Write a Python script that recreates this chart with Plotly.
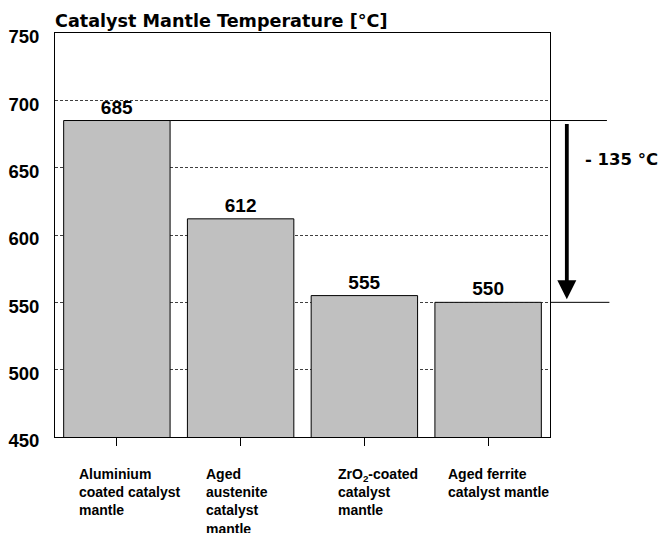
import plotly.graph_objects as go

# Mantle temperatures per catalyst variant
categories = [
    "Aluminium<br>coated catalyst<br>mantle",
    "Aged<br>austenite<br>catalyst<br>mantle",
    "ZrO<sub>2</sub>-coated<br>catalyst<br>mantle",
    "Aged ferrite<br>catalyst mantle",
]
temperatures = [685, 612, 555, 550]
label_shift = [-40, -37, -28, -42]
y_ticks = [450, 500, 550, 600, 650, 700, 750]
delta_label = "- 135 °C"

FONT = "Liberation Sans, Arial, sans-serif"
WIDE = "DejaVu Sans, Verdana, sans-serif"
x_pos = list(range(len(categories)))

fig = go.Figure()
fig.add_trace(go.Bar(
    x=x_pos,
    y=temperatures,
    marker=dict(color="#c0c0c0", line=dict(color="black", width=1)),
    text=[f"<b>{v}</b>" for v in temperatures],
    textposition="outside",
    textfont=dict(family=FONT, size=19, color="black"),
    cliponaxis=False,
    width=0.86,
    hoverinfo="skip",
))

# Reference lines at highest and lowest temperature
hi, lo = max(temperatures), min(temperatures)
bar_half = 0.43
fig.add_shape(type="line", xref="x", yref="y", x0=x_pos[0] + bar_half, x1=3.5, y0=hi, y1=hi,
              line=dict(color="black", width=1))
fig.add_shape(type="line", xref="paper", yref="y", x0=1.0, x1=1.115, y0=hi, y1=hi,
              line=dict(color="black", width=1))
fig.add_shape(type="line", xref="paper", yref="y", x0=1.0, x1=1.12, y0=lo, y1=lo,
              line=dict(color="black", width=1))

# Downward arrow marking the temperature drop
fig.add_annotation(
    xref="paper", yref="y", x=1.034, y=lo,
    axref="pixel", ayref="y", ax=0, ay=hi,
    showarrow=True, arrowhead=2, arrowsize=1.0, arrowwidth=3.8, arrowcolor="black",
    standoff=3, startstandoff=2, text="",
)
fig.add_annotation(
    xref="paper", yref="paper", x=1.066, y=(656 - 450) / 300,
    text=f"<b>{delta_label}</b>", showarrow=False, xanchor="left", yanchor="middle",
    font=dict(family=WIDE, size=16.5, color="black"),
)

# Left-aligned category labels below the axis
for i, (name, dx) in enumerate(zip(categories, label_shift)):
    fig.add_annotation(
        xref="x", yref="paper", x=i, y=-0.066, xshift=dx,
        text=f"<b>{name}</b>", showarrow=False, xanchor="left", yanchor="top", align="left",
        font=dict(family=FONT, size=14, color="black"),
    )

fig.update_layout(
    width=660, height=533,
    margin=dict(l=55, r=110, t=33, b=96, autoexpand=False),
    plot_bgcolor="white", paper_bgcolor="white",
    showlegend=False,
    title=dict(text="<b>Catalyst Mantle Temperature [°C]</b>", x=55 / 660, xanchor="left",
               y=1 - 21 / 533, yanchor="middle",
               font=dict(family=WIDE, size=17.6, color="black")),
    xaxis=dict(range=[-0.5, 3.5], tickvals=x_pos, showticklabels=False, automargin=False,
               ticks="outside", ticklen=8, tickcolor="black", tickwidth=1,
               showline=True, linecolor="black", linewidth=1, mirror=True,
               showgrid=False, zeroline=False, fixedrange=True),
    yaxis=dict(range=[450, 750], tickvals=y_ticks, automargin=False,
               ticktext=[f"<b>{t}</b>" for t in y_ticks],
               tickfont=dict(family=FONT, size=18.5, color="black"),
               ticks="", ticklabelstandoff=11, ticklabelshift=4,
               showline=True, linecolor="black", linewidth=1, mirror=True,
               showgrid=True, gridcolor="#404040", gridwidth=1, griddash="3px,2px",
               zeroline=False, fixedrange=True),
)

fig.write_html("out.html")
